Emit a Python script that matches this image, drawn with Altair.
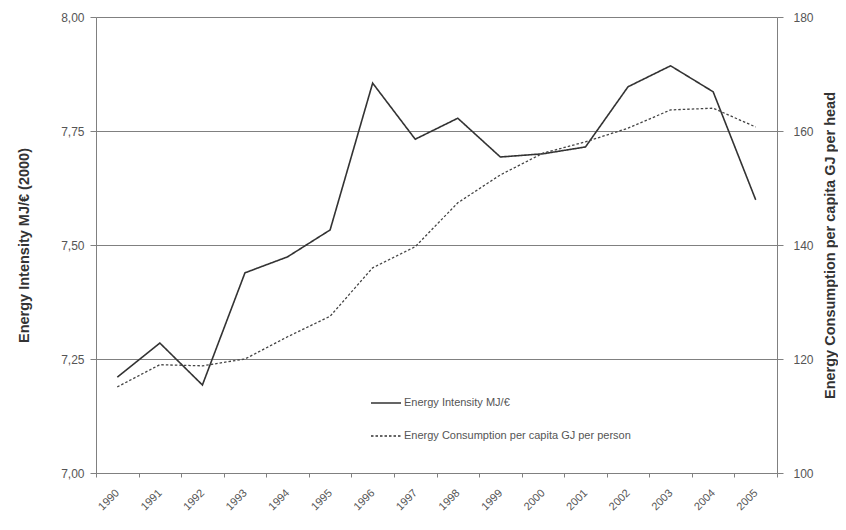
import altair as alt
import pandas as pd

years = [str(y) for y in range(1990, 2006)]
intensity = [7.21, 7.285, 7.193, 7.439, 7.474, 7.533, 7.855, 7.732, 7.778, 7.693,
             7.700, 7.715, 7.847, 7.893, 7.836, 7.599]
consumption = [115.1, 119.0, 118.8, 120.0, 123.9, 127.5, 136.0, 139.7, 147.4, 152.3,
               156.1, 158.1, 160.5, 163.7, 164.0, 160.7]
series = ["Energy Intensity MJ/€", "Energy Consumption per capita GJ per person"]
left_ticks = [7.0, 7.25, 7.5, 7.75, 8.0]
right_ticks = [100, 120, 140, 160, 180]

df1 = pd.DataFrame({"year": years, "value": intensity, "series": series[0]})
df2 = pd.DataFrame({"year": years, "value": consumption, "series": series[1]})

FONT = "Liberation Sans"

x_enc = alt.X("year:N", scale=alt.Scale(type="band", paddingInner=0, paddingOuter=0),
              axis=alt.Axis(title=None, tickBand="extent", labelAngle=-45,
                            labelAlign="right", labelBaseline="middle",
                            labelFontSize=11, labelColor="#555555", labelFont=FONT,
                            domainColor="#808080", tickColor="#808080", tickSize=4,
                            labelPadding=14, grid=False))

dash = alt.StrokeDash("series:N",
                      scale=alt.Scale(domain=series, range=[[1, 0], [2.5, 2]]),
                      legend=alt.Legend(title=None, orient="none", legendX=274, legendY=370,
                                        symbolType="stroke", symbolSize=900,
                                        symbolStrokeColor="#333333", symbolStrokeWidth=1.3,
                                        labelFontSize=11, labelColor="#555555", labelFont=FONT,
                                        labelLimit=400,
                                        rowPadding=12, labelOffset=2, padding=0))

left = alt.Chart(df1).mark_line(color="#333333", strokeWidth=1.6).encode(
    x=x_enc,
    y=alt.Y("value:Q", scale=alt.Scale(domain=[7, 8], nice=False, zero=False),
            axis=alt.Axis(title="Energy Intensity MJ/€ (2000)", values=left_ticks,
                          labelExpr="replace(format(datum.value, '.2f'), '.', ',')",
                          grid=True, gridColor="#808080", gridWidth=1,
                          domainColor="#808080", tickColor="#808080", tickSize=6,
                          labelFontSize=12, labelColor="#555555", labelFont=FONT,
                          titleFont=FONT, titleFontSize=14.5, titleFontWeight="bold",
                          titleColor="#333333", titlePadding=29, labelPadding=6)),
    strokeDash=dash,
)

right = alt.Chart(df2).mark_line(color="#444444", strokeWidth=1.3).encode(
    x=x_enc,
    y=alt.Y("value:Q", scale=alt.Scale(domain=[100, 180], nice=False, zero=False),
            axis=alt.Axis(title="Energy Consumption per capita GJ per head", orient="right",
                          values=right_ticks, grid=False,
                          domainColor="#808080", tickColor="#808080", tickSize=6,
                          labelFontSize=12, labelColor="#555555", labelFont=FONT,
                          titleFont=FONT, titleFontSize=14.5, titleFontWeight="bold",
                          titleColor="#333333", titleAngle=270, titleBaseline="top",
                          titlePadding=10, labelPadding=10)),
    strokeDash=dash,
)

chart = alt.layer(left, right).resolve_scale(y="independent").properties(
    width=681, height=456,
    autosize=alt.AutoSizeParams(type="none"),
    padding={"left": 88, "top": 9, "right": 61, "bottom": 49},
).configure_view(stroke=None).configure(background="white")

chart.save("out.html", embed_options={"renderer": "svg", "actions": False})
